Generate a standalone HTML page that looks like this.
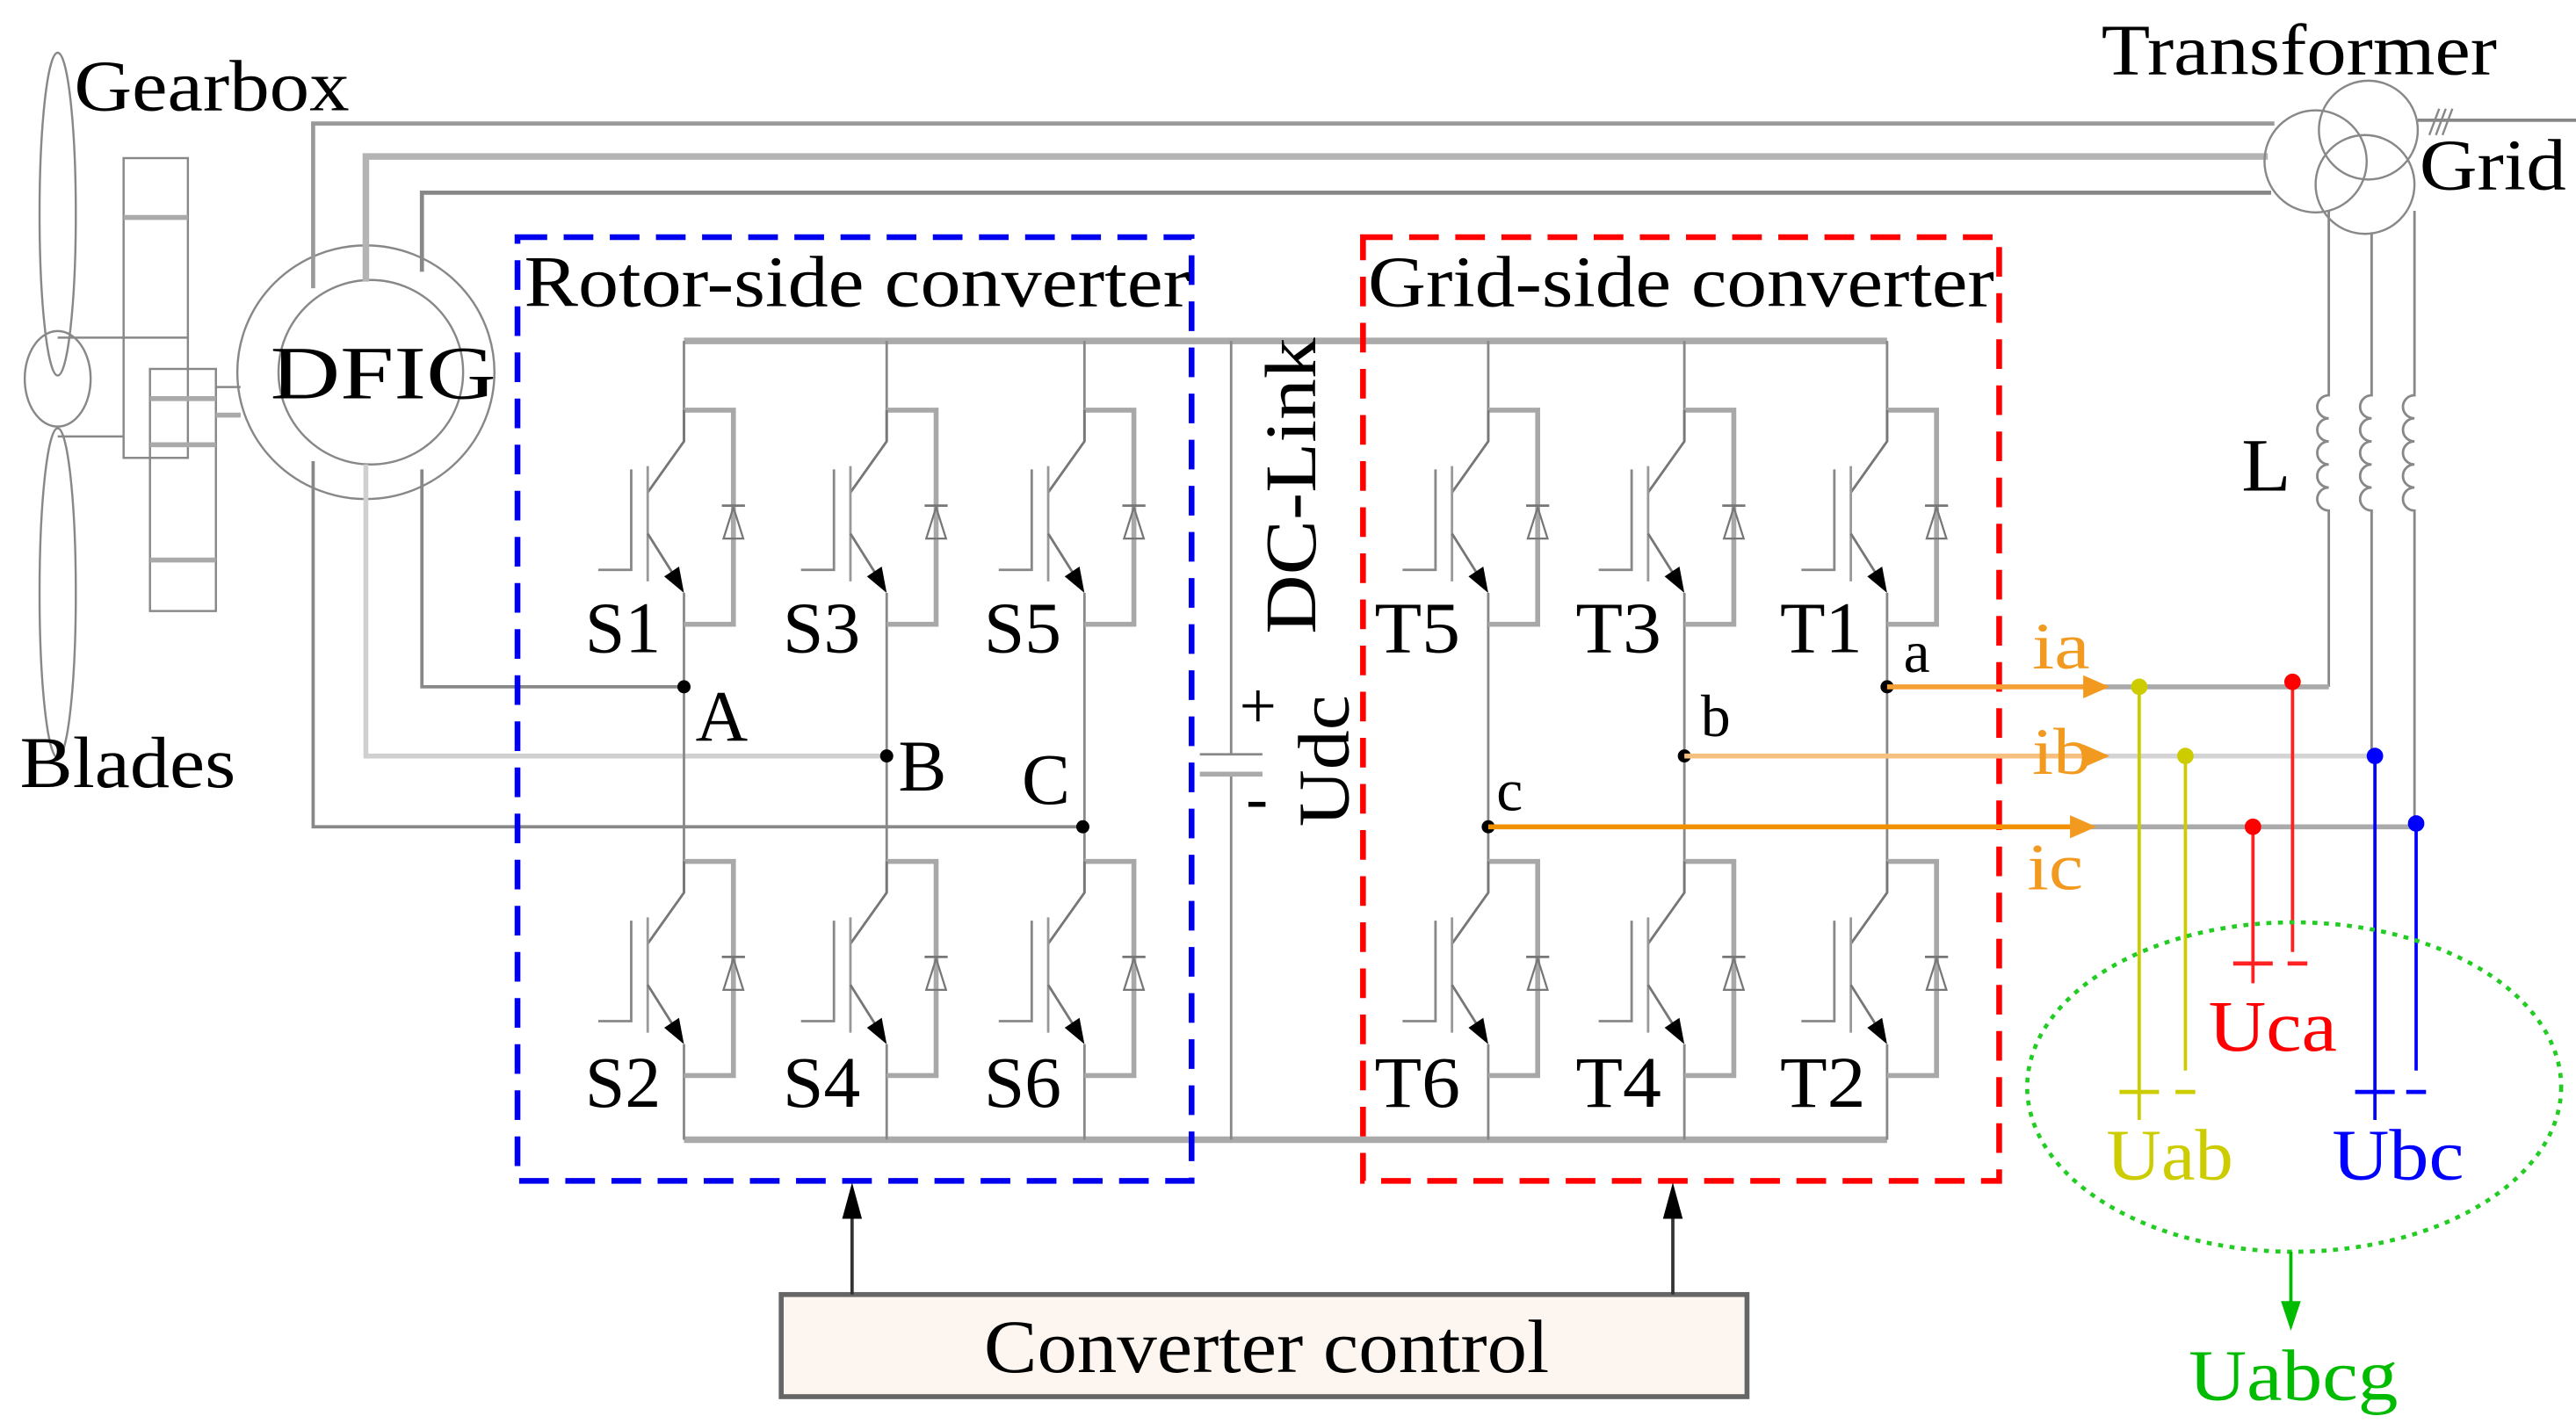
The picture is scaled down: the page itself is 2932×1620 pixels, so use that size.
<!DOCTYPE html>
<html><head><meta charset="utf-8"><style>
html,body{margin:0;padding:0;background:#fff;}
svg{display:block}
text{font-family:"Liberation Serif",serif;}
</style></head><body>
<svg width="2932" height="1620" viewBox="0 0 1563 864" preserveAspectRatio="none" xmlns="http://www.w3.org/2000/svg">
<defs>
<g id="sw">
  <path d="M0,0 H30 V130 H0" fill="none" stroke="#a8a8a8" stroke-width="3"/>
  <path d="M0,0 V19 L-22,50" fill="none" stroke="#777" stroke-width="1.5"/>
  <line x1="-22" y1="34" x2="-22" y2="104" stroke="#999" stroke-width="1.5"/>
  <path d="M-32,36 V97 H-52" fill="none" stroke="#888" stroke-width="1.5"/>
  <line x1="-22" y1="75" x2="-5" y2="102" stroke="#777" stroke-width="1.5"/>
  <polygon points="0,111 -12,101 -3,95" fill="#000"/>
  <polygon points="30,59 24,78 36,78" fill="none" stroke="#777" stroke-width="1.2"/>
  <line x1="23" y1="58" x2="37" y2="58" stroke="#777" stroke-width="1.5"/>
</g>
</defs>

<!-- Blades -->
<g fill="none" stroke="#888" stroke-width="1.3">
<ellipse cx="35" cy="130" rx="11" ry="98"/>
<ellipse cx="35" cy="230" rx="20" ry="29"/>
<ellipse cx="35" cy="360" rx="11" ry="100"/>
<line x1="35" y1="205" x2="114" y2="205"/>
<line x1="35" y1="265" x2="75" y2="265"/>
<rect x="75" y="96" width="39" height="182"/>
<rect x="91" y="224" width="40" height="147"/>
<line x1="131" y1="235" x2="146" y2="235"/>
<line x1="131" y1="252" x2="146" y2="252"/>
</g>
<g stroke="#aaa" stroke-width="3">
<line x1="75" y1="132" x2="114" y2="132"/>
<line x1="91" y1="242" x2="131" y2="242"/>
<line x1="91" y1="270" x2="131" y2="270"/>
<line x1="91" y1="340" x2="131" y2="340"/>
<line x1="131" y1="252" x2="146" y2="252"/>
</g>
<text x="45" y="67" font-size="44" textLength="167" lengthAdjust="spacingAndGlyphs">Gearbox</text>
<text x="12" y="478" font-size="44" textLength="131" lengthAdjust="spacingAndGlyphs">Blades</text>

<!-- DFIG -->
<g fill="none" stroke="#888" stroke-width="1.3">
<ellipse cx="222" cy="226" rx="78" ry="77"/>
<ellipse cx="225" cy="226" rx="56" ry="56"/>
</g>
<text x="164" y="242" font-size="46" textLength="137" lengthAdjust="spacingAndGlyphs">DFIG</text>

<!-- stator lines -->
<g fill="none" stroke-width="2.5">
<path d="M190,175 V75 H1380" stroke="#999"/>
<path d="M222,171 V95 H1376" stroke="#b4b4b4" stroke-width="4"/>
<path d="M256,165 V117 H1378" stroke="#888"/>
</g>
<!-- rotor lines -->
<g fill="none" stroke-width="2">
<path d="M190,280 V502 H657" stroke="#888"/>
<path d="M222,282 V459 H538" stroke="#d0d0d0" stroke-width="3"/>
<path d="M256,285 V417 H415" stroke="#888"/>
</g>

<!-- Transformer -->
<g fill="none" stroke="#888" stroke-width="1.3">
<circle cx="1405" cy="98" r="31"/>
<circle cx="1437" cy="79" r="30"/>
<circle cx="1435" cy="112" r="30"/>
<line x1="1467" y1="73" x2="1563" y2="73" stroke="#888" stroke-width="2"/>
<line x1="1474" y1="82" x2="1480" y2="66"/>
<line x1="1478" y1="82" x2="1484" y2="66"/>
<line x1="1482" y1="82" x2="1488" y2="66"/>
</g>
<text x="1275" y="45" font-size="44" textLength="240" lengthAdjust="spacingAndGlyphs">Transformer</text>
<text x="1468" y="115" font-size="44" textLength="89" lengthAdjust="spacingAndGlyphs">Grid</text>

<!-- inductors -->
<g fill="none" stroke="#888" stroke-width="1.5">
<path d="M1413,128 V240 a6,6 0 0,0 0,14 a6,6 0 0,0 0,14 a6,6 0 0,0 0,14 a6,6 0 0,0 0,14 a6,6 0 0,0 0,14 V417"/>
<path d="M1439,141 V240 a6,6 0 0,0 0,14 a6,6 0 0,0 0,14 a6,6 0 0,0 0,14 a6,6 0 0,0 0,14 a6,6 0 0,0 0,14 V459"/>
<path d="M1465,128 V240 a6,6 0 0,0 0,14 a6,6 0 0,0 0,14 a6,6 0 0,0 0,14 a6,6 0 0,0 0,14 a6,6 0 0,0 0,14 V500"/>
</g>
<text x="1360" y="298" font-size="46" textLength="30" lengthAdjust="spacingAndGlyphs">L</text>

<!-- buses -->
<line x1="415" y1="207" x2="1145" y2="207" stroke="#aaa" stroke-width="4"/>
<line x1="415" y1="692" x2="1145" y2="692" stroke="#aaa" stroke-width="4"/>
<line x1="747" y1="207" x2="747" y2="458" stroke="#888" stroke-width="1.5"/>
<line x1="747" y1="470" x2="747" y2="692" stroke="#888" stroke-width="1.5"/>
<line x1="728" y1="458" x2="766" y2="458" stroke="#888" stroke-width="1.5"/>
<line x1="728" y1="470" x2="766" y2="470" stroke="#aaa" stroke-width="3"/>
<text x="752" y="442" font-size="40">+</text>
<text x="756" y="498" font-size="40">-</text>
<text transform="translate(798,385) rotate(-90)" font-size="44" textLength="180" lengthAdjust="spacingAndGlyphs">DC-Link</text>
<text transform="translate(818,502) rotate(-90)" font-size="44" textLength="80" lengthAdjust="spacingAndGlyphs">Udc</text>

<!-- legs -->
<g stroke="#888" stroke-width="1.5" fill="none">
<path d="M415,207 V268 M415,360 V542 M415,634 V692"/>
<path d="M538,207 V268 M538,360 V542 M538,634 V692"/>
<path d="M658,207 V268 M658,360 V542 M658,634 V692"/>
<path d="M903,207 V268 M903,360 V542 M903,634 V692"/>
<path d="M1022,207 V268 M1022,360 V542 M1022,634 V692"/>
<path d="M1145,207 V268 M1145,360 V542 M1145,634 V692"/>
</g>
<use href="#sw" x="415" y="249"/><use href="#sw" x="538" y="249"/><use href="#sw" x="658" y="249"/>
<use href="#sw" x="415" y="523"/><use href="#sw" x="538" y="523"/><use href="#sw" x="658" y="523"/>
<use href="#sw" x="903" y="249"/><use href="#sw" x="1022" y="249"/><use href="#sw" x="1145" y="249"/>
<use href="#sw" x="903" y="523"/><use href="#sw" x="1022" y="523"/><use href="#sw" x="1145" y="523"/>

<g font-size="44">
<text x="355" y="396" textLength="46" lengthAdjust="spacingAndGlyphs">S1</text><text x="475" y="396" textLength="47" lengthAdjust="spacingAndGlyphs">S3</text><text x="597" y="396" textLength="47" lengthAdjust="spacingAndGlyphs">S5</text>
<text x="355" y="672" textLength="46" lengthAdjust="spacingAndGlyphs">S2</text><text x="475" y="672" textLength="47" lengthAdjust="spacingAndGlyphs">S4</text><text x="597" y="672" textLength="47" lengthAdjust="spacingAndGlyphs">S6</text>
<text x="834" y="396" textLength="52" lengthAdjust="spacingAndGlyphs">T5</text><text x="956" y="396" textLength="52" lengthAdjust="spacingAndGlyphs">T3</text><text x="1080" y="396" textLength="50" lengthAdjust="spacingAndGlyphs">T1</text>
<text x="834" y="672" textLength="52" lengthAdjust="spacingAndGlyphs">T6</text><text x="956" y="672" textLength="52" lengthAdjust="spacingAndGlyphs">T4</text><text x="1080" y="672" textLength="52" lengthAdjust="spacingAndGlyphs">T2</text>
<text x="422" y="450">A</text><text x="545" y="480">B</text><text x="620" y="488">C</text>
</g>
<g font-size="36">
<text x="1155" y="408">a</text><text x="1032" y="447">b</text><text x="908" y="492">c</text>
</g>
<g fill="#000">
<circle cx="415" cy="417" r="4"/><circle cx="538" cy="459" r="4"/><circle cx="657" cy="502" r="4"/>
<circle cx="1145" cy="417" r="4"/><circle cx="1022" cy="459" r="4"/><circle cx="903" cy="502" r="4"/>
</g>

<!-- dashed boxes -->
<rect x="314" y="144" width="409" height="573" fill="none" stroke="#0000ee" stroke-width="3.5" stroke-dasharray="18,10"/>
<rect x="827" y="144" width="386" height="573" fill="none" stroke="#ff0000" stroke-width="3.5" stroke-dasharray="18,10"/>
<text x="318" y="186" font-size="44" textLength="404" lengthAdjust="spacingAndGlyphs">Rotor-side converter</text>
<text x="830" y="186" font-size="44" textLength="380" lengthAdjust="spacingAndGlyphs">Grid-side converter</text>

<!-- output lines -->
<g stroke-width="3" fill="none">
<line x1="1270" y1="417" x2="1413" y2="417" stroke="#aaa"/>
<line x1="1270" y1="459" x2="1439" y2="459" stroke="#d4d4d4"/>
<line x1="1262" y1="502" x2="1465" y2="502" stroke="#aaa"/>
<line x1="1145" y1="417" x2="1266" y2="417" stroke="#f5a035"/>
<line x1="1022" y1="459" x2="1266" y2="459" stroke="#f8c080"/>
<line x1="903" y1="502" x2="1258" y2="502" stroke="#f29100"/>
</g>
<g fill="#f29a20">
<polygon points="1280,417 1264,410 1264,424"/>
<polygon points="1280,459 1264,452 1264,466"/>
<polygon points="1272,502 1256,495 1256,509"/>
</g>
<g font-size="40" fill="#f29a20">
<text x="1233" y="406" textLength="35" lengthAdjust="spacingAndGlyphs">ia</text><text x="1233" y="470" textLength="36" lengthAdjust="spacingAndGlyphs">ib</text><text x="1230" y="540" textLength="34" lengthAdjust="spacingAndGlyphs">ic</text>
</g>

<g stroke-width="2" fill="none">
<line x1="1298" y1="417" x2="1298" y2="680" stroke="#cccc00"/>
<line x1="1326" y1="459" x2="1326" y2="650" stroke="#cccc00"/>
<line x1="1391" y1="417" x2="1391" y2="578" stroke="#ff2020"/>
<line x1="1367" y1="502" x2="1367" y2="597" stroke="#ff2020"/>
<line x1="1441" y1="459" x2="1441" y2="680" stroke="#0000ff"/>
<line x1="1466" y1="500" x2="1466" y2="650" stroke="#0000ff"/>
</g>
<circle cx="1298" cy="417" r="5" fill="#cccc00"/><circle cx="1326" cy="459" r="5" fill="#cccc00"/>
<circle cx="1391" cy="414" r="5" fill="#ff0000"/><circle cx="1367" cy="502" r="5" fill="#ff0000"/>
<circle cx="1441" cy="459" r="5" fill="#0000ff"/><circle cx="1466" cy="500" r="5" fill="#0000ff"/>
<g stroke-width="2.5">
<line x1="1286" y1="663" x2="1310" y2="663" stroke="#cccc00"/><line x1="1320" y1="663" x2="1332" y2="663" stroke="#cccc00"/>
<line x1="1355" y1="585" x2="1379" y2="585" stroke="#ff2020"/><line x1="1388" y1="585" x2="1400" y2="585" stroke="#ff2020"/>
<line x1="1429" y1="663" x2="1453" y2="663" stroke="#0000ff"/><line x1="1460" y1="663" x2="1472" y2="663" stroke="#0000ff"/>
</g>
<text x="1278" y="716" font-size="44" fill="#cccc00" textLength="77" lengthAdjust="spacingAndGlyphs">Uab</text>
<text x="1340" y="638" font-size="44" fill="#ff0000" textLength="78" lengthAdjust="spacingAndGlyphs">Uca</text>
<text x="1415" y="716" font-size="44" fill="#0000ff" textLength="80" lengthAdjust="spacingAndGlyphs">Ubc</text>

<ellipse cx="1392" cy="660" rx="162" ry="100" fill="none" stroke="#22cc22" stroke-width="2.5" stroke-dasharray="3,4"/>
<line x1="1390" y1="760" x2="1390" y2="795" stroke="#00bb00" stroke-width="2"/>
<polygon points="1390,808 1384,790 1396,790" fill="#00bb00"/>
<text x="1328" y="850" font-size="44" fill="#00bb00" textLength="127" lengthAdjust="spacingAndGlyphs">Uabcg</text>

<!-- control -->
<rect x="474" y="786" width="586" height="62" fill="#fdf6f0" stroke="#666" stroke-width="3"/>
<text x="597" y="833" font-size="46" textLength="343" lengthAdjust="spacingAndGlyphs">Converter control</text>
<g stroke="#333" stroke-width="2">
<line x1="517" y1="786" x2="517" y2="735"/>
<line x1="1015" y1="786" x2="1015" y2="735"/>
</g>
<polygon points="517,718 511,740 523,740" fill="#000"/>
<polygon points="1015,718 1009,740 1021,740" fill="#000"/>
</svg>
</body></html>
